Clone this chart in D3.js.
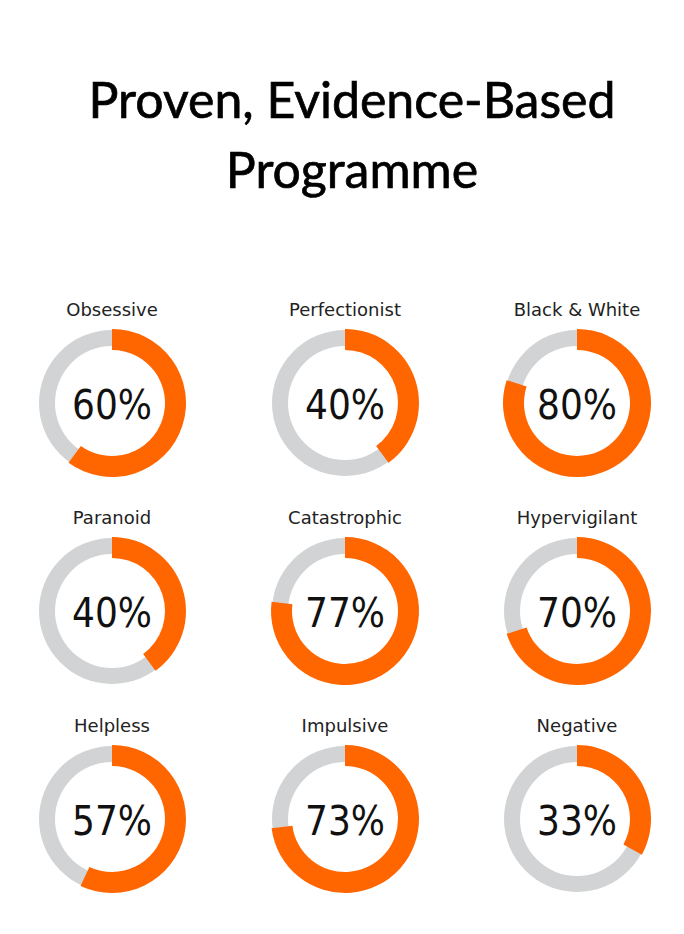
<!DOCTYPE html>
<html>
<head>
<meta charset="utf-8">
<script src="https://cdn.jsdelivr.net/npm/d3@7"></script>
<style>
  body { margin: 0; background: #fff; }
</style>
</head>
<body>
<div id="container"></div>
<script>
// chart data
let titleLines = ["Proven, Evidence-Based", "Programme"];
let traits = ["Obsessive", "Perfectionist", "Black & White",
              "Paranoid", "Catastrophic", "Hypervigilant",
              "Helpless", "Impulsive", "Negative"];
let percents = [60, 40, 80, 40, 77, 70, 57, 73, 33];

// layout
let width = 684;
let height = 934;
let nCols = 3;
let colCenters = [112, 345, 577];
let rowCenters = [403, 611, 819];
let labelOffset = -87;

let svg = d3.select('#container')
  .append('svg')
  .attr('width', width)
  .attr('height', height);

svg.selectAll('text.title')
  .data(titleLines)
  .enter()
  .append('text')
  .attr('class', 'title')
  .attr('x', 352)
  .attr('y', function(d, i) { return 118 + i * 70; })
  .attr('text-anchor', 'middle')
  .style('font-family', 'Lato, sans-serif')
  .style('font-size', '50px')
  .style('fill', '#000')
  .style('stroke', '#000')
  .style('stroke-width', '0.7px')
  .text(function(d) { return d; });

let pctScale = d3.scaleLinear().domain([0, 100]).range([0, 2 * Math.PI]);
let bgArc = d3.arc().innerRadius(57).outerRadius(73).startAngle(0).endAngle(2 * Math.PI);
let fgArc = d3.arc().innerRadius(53).outerRadius(74).startAngle(0)
  .endAngle(function(d) { return pctScale(d.value); });

let data = traits.map(function(t, i) { return {name: t, value: percents[i], id: i}; });

let cells = svg.selectAll('g.donut')
  .data(data)
  .enter()
  .append('g')
  .attr('class', 'donut')
  .attr('transform', function(d) {
    return 'translate(' + colCenters[d.id % nCols] + ',' + rowCenters[Math.floor(d.id / nCols)] + ')';
  });

cells.append('path')
  .attr('d', bgArc)
  .attr('fill', '#d1d3d4');

cells.append('path')
  .attr('d', fgArc)
  .attr('fill', '#ff6600');

cells.append('text')
  .attr('y', labelOffset)
  .attr('text-anchor', 'middle')
  .style('font-family', 'DejaVu Sans, sans-serif')
  .style('font-size', '18px')
  .style('fill', '#222')
  .text(function(d) { return d.name; });

cells.append('text')
  .attr('y', 16)
  .attr('text-anchor', 'middle')
  .style('font-family', '"DejaVu Sans Condensed", "DejaVu Sans", sans-serif')
  .style('font-stretch', 'condensed')
  .style('font-size', '40px')
  .style('fill', '#111')
  .text(function(d) { return d.value + '%'; });
</script>
</body>
</html>
